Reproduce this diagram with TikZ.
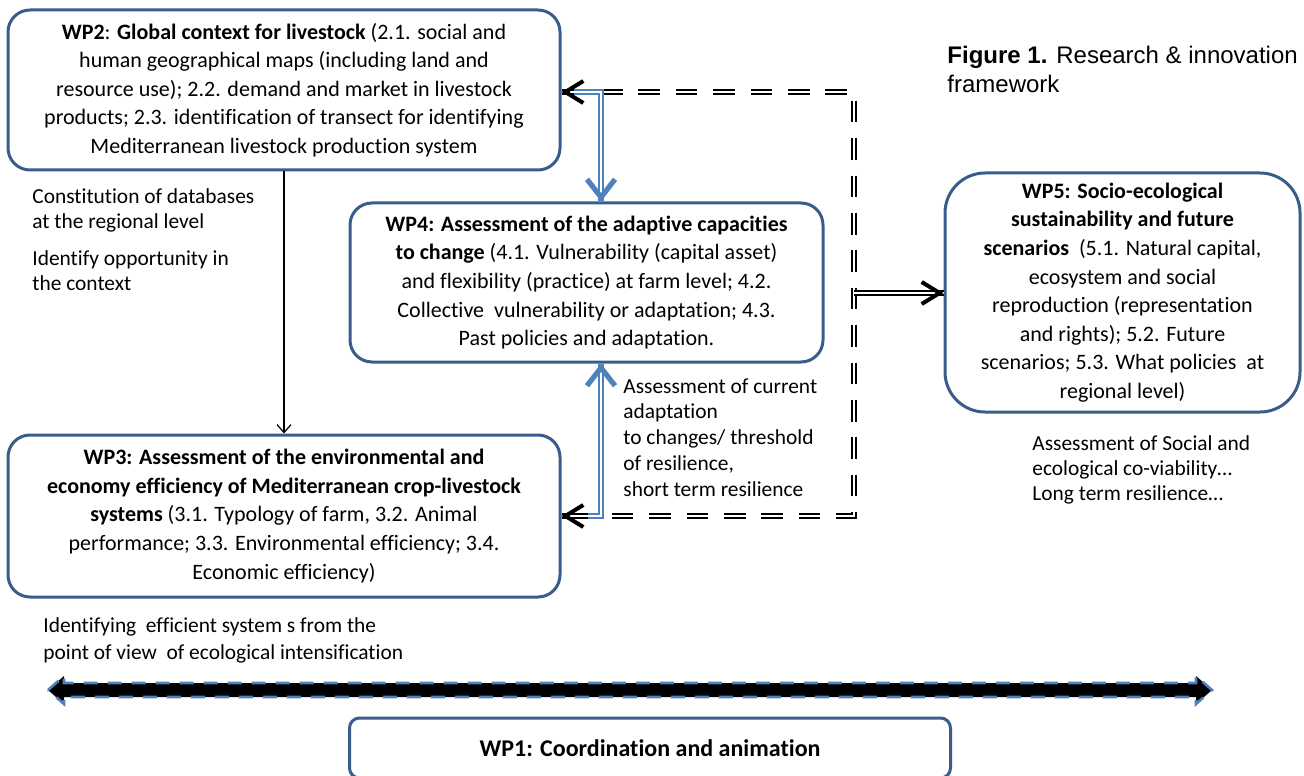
\documentclass[tikz,border=0pt]{standalone}
\usepackage{fontspec}
\setmainfont{Carlito}[Ligatures=NoCommon]
\newfontfamily\arialfont{Liberation Sans}
\usetikzlibrary{arrows.meta, calc, positioning}
\definecolor{wpframe}{RGB}{56,93,138}
\definecolor{wplink}{RGB}{79,129,189}
\tikzset{>=latex}

\begin{document}
\begin{tikzpicture}[x=0.5pt, y=-0.5pt,
    wp/.style={draw=wpframe, line width=1.5pt, rounded corners=11pt, align=center, inner sep=0pt, font=\fontsize{11}{14.3}\selectfont},
    remark/.style={anchor=north west, align=left, inner sep=0pt, font=\fontsize{10.7}{12.6}\selectfont},
    blink/.style={draw=wplink, double=white, line width=0.9pt, double distance=1.2pt},
    dlink/.style={draw=black, double=white, line width=0.9pt, double distance=0.9pt},
    dashlink/.style={dlink, dash pattern=on 10.8pt off 7.9pt},
    K/.tip={Straight Barb[length=9pt, width=11pt]},
    B/.tip={Straight Barb[length=9pt, width=14pt]},
    V/.tip={Straight Barb[length=4pt, width=7pt]},
    khead/.style={draw=black, line width=2pt, -K},
    bhead/.style={draw=wplink, line width=2.6pt, -B}]
\useasboundingbox (0,0) rectangle (1304,775);
\clip (0,0) rectangle (1304,775);

% work packages
\node[wp, minimum width=276pt, minimum height=80pt] (wp2) at (284,90) {\textbf{WP2}: \textbf{Global context for livestock} (2.1. social and\\ human geographical maps (including land and\\ resource use); 2.2. demand and market in livestock\\ products; 2.3. identification of transect for identifying\\ Mediterranean livestock production system};
\node[wp, minimum width=236.5pt, minimum height=79.5pt] (wp4) at (586.5,282.5) {\textbf{WP4: Assessment of the adaptive capacities}\\ \textbf{to change} (4.1. Vulnerability (capital asset)\\ and flexibility (practice) at farm level; 4.2.\\ Collective\ \ vulnerability or adaptation; 4.3.\\ Past policies and adaptation.};
\node[wp, rounded corners=20pt, minimum width=177.5pt, minimum height=119.5pt] (wp5) at (1122.5,292.5) {\textbf{WP5: Socio-ecological}\\ \textbf{sustainability and future}\\ \textbf{scenarios}\ \ (5.1. Natural capital,\\ ecosystem and social\\ reproduction (representation\\ and rights); 5.2. Future\\ scenarios; 5.3. What policies\ \ at\\ regional level)};
\node[wp, minimum width=276pt, minimum height=81pt] (wp3) at (284,516) {\textbf{WP3: Assessment of the environmental and}\\ \textbf{economy efficiency of Mediterranean crop-livestock}\\ \textbf{systems} (3.1. Typology of farm, 3.2. Animal\\ performance; 3.3. Environmental efficiency; 3.4.\\ Economic efficiency)};
\node[wp, rounded corners=5pt, minimum width=300.5pt, minimum height=30pt, font=\fontsize{12}{14}\selectfont] (wp1) at (650,748) {\textbf{WP1: Coordination and animation}};

% bends of the loop
\coordinate (tl) at (601,92);
\coordinate (tr) at (854,92);
\coordinate (br) at (854,516);
\coordinate (bl) at (601,516);
\coordinate (mr) at (854,293);
\coordinate (tlend) at (574,92);
\coordinate (blend) at (588,516);

\draw[line width=0.6pt, -V] (wp2) -- (wp3);
\draw[dashlink] (tl) -- (tr) -- (br) -- (bl);
\draw[dlink] (tl) -- (wp2.east |- tl);
\draw[dlink] (bl) -- (wp3.east |- bl);
\draw[dlink] (mr) -- (wp5.west |- mr);
\draw[khead] ($(wp2.east |- tl)+(2,0)$) -- (wp2.east |- tl);
\draw[khead] ($(wp3.east |- bl)+(2,0)$) -- (wp3.east |- bl);
\draw[khead] ($(wp5.west |- mr)+(-2,0)$) -- (wp5.west |- mr);
\draw[blink] (tlend) -- (tl) -- (tl |- wp4.north);
\draw[blink] (blend) -- (bl) -- (bl |- wp4.south);
\draw[bhead] ($(tl |- wp4.north)+(0,-2)$) -- (tl |- wp4.north);
\draw[bhead] ($(bl |- wp4.south)+(0,2)$) -- (bl |- wp4.south);

% coordination band
\filldraw[fill=black, draw=wplink, line width=1.3pt, dash pattern=on 7pt off 5pt] (48,690) -- (64,676) -- (64,683) -- (1196,683) -- (1196,676) -- (1212,690) -- (1196,704) -- (1196,697) -- (64,697) -- (64,704) -- cycle;

% remarks
\node[remark] (dbnote) at (32,188) {Constitution of databases\\at the regional level};
\node[remark] (ctxnote) at (32,250) {Identify opportunity in\\the context};
\node[remark, font=\fontsize{10.7}{12.9}\selectfont] (adaptnote) at (623,378) {Assessment of current\\adaptation\\to changes/ threshold\\of resilience,\\short term resilience};
\node[remark, font=\fontsize{10.7}{12.5}\selectfont] (socnote) at (1032,435) {Assessment of Social and\\ecological co-viability…\\Long term resilience…};
\node[remark, font=\fontsize{10.7}{13.7}\selectfont] (effnote) at (43,617) {Identifying\ \ efficient system s from the\\point of view\ \ of ecological intensification};
\node[anchor=north west, align=left, inner sep=0pt, font=\arialfont\fontsize{12}{14.5}\selectfont] (title) at (947,46) {\textbf{Figure 1.} Research \& innovation\\framework};
\end{tikzpicture}
\end{document}
